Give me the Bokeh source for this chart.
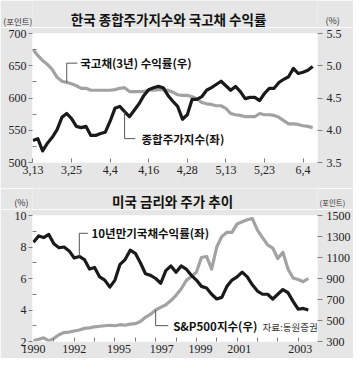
from bokeh.plotting import figure
from bokeh.models import Range1d, LinearAxis, FixedTicker, Label, CustomJSTickFormatter
from bokeh.layouts import column
from bokeh.embed import file_html
from bokeh.resources import INLINE

# ---------------- Top chart data (Korea, 2003 trading days) ----------------
kr_tick_index = [0, 8, 16, 24, 32, 40, 48, 56]
kr_tick_labels = ["3,13", "3,25", "4,4", "4,16", "4,28", "5,13", "5,23", "6,4"]
kospi = [534, 537, 518, 530, 539, 551, 570, 576, 568, 556,
         554, 556, 542, 542, 545, 547, 564, 584, 587, 579,
         571, 581, 591, 604, 613, 616, 618, 616, 604, 595,
         587, 567, 574, 598, 598, 602, 612, 616, 621, 626,
         619, 612, 618, 610, 599, 601, 601, 596, 607, 615,
         615, 624, 629, 633, 646, 638, 640, 643, 649]
ktb3y = [5.25, 5.16, 5.08, 5.02, 4.94, 4.82, 4.76, 4.74, 4.72, 4.69,
         4.65, 4.65, 4.62, 4.62, 4.62, 4.62, 4.62, 4.63, 4.65, 4.66,
         4.60, 4.60, 4.60, 4.60, 4.62, 4.62, 4.63, 4.63, 4.62, 4.59,
         4.55, 4.54, 4.54, 4.52, 4.49, 4.43, 4.41, 4.40, 4.38, 4.38,
         4.34, 4.26, 4.24, 4.23, 4.21, 4.21, 4.21, 4.26, 4.24, 4.24,
         4.23, 4.20, 4.15, 4.10, 4.10, 4.09, 4.07, 4.06, 4.04]
kr_x = list(range(len(kospi)))
kospi_ticks = [500, 550, 600, 650, 700]
kospi_minor = [525, 575, 625, 675]
ktb_ticks = [3.5, 4.0, 4.5, 5.0, 5.5]

# ---------------- Bottom chart data (US, quarterly 1990-2003) ----------------
us_yield10 = [8.3, 8.7, 8.6, 8.8, 8.2, 7.95, 8.0, 7.75, 7.3, 7.4,
              7.2, 6.6, 6.7, 6.1, 5.9, 5.45, 5.9, 6.9, 7.2, 7.8,
              7.6, 7.0, 6.3, 6.2, 6.0, 5.7, 6.5, 6.8, 6.4, 6.8,
              6.6, 6.2, 5.9, 5.5, 5.4, 5.0, 4.7, 4.8, 5.5, 5.9,
              6.1, 6.4, 6.1, 5.6, 5.2, 5.0, 5.0, 4.7, 5.0, 5.3,
              5.1, 4.55, 4.05, 4.1, 4.0]
sp500 = [310, 320, 335, 305, 330, 365, 385, 390, 400, 410,
         425, 430, 440, 445, 450, 455, 450, 460, 455, 465,
         470, 490, 530, 560, 600, 625, 650, 690, 740, 800,
         880, 920, 960, 1100, 1110, 990, 1200, 1300, 1340, 1340,
         1420, 1440, 1460, 1470, 1360, 1290, 1220, 1190, 1090, 1150,
         990, 905, 890, 870, 900]
us_t = [1990 + q / 4 for q in range(len(us_yield10))]
us_tick_pos = [1990.0, 1992.0, 1994.2, 1996.3, 1998.2, 2000.1, 2003.1]
us_tick_labels = ["1990", "1992", "1995", "1997", "1999", "2001", "2003"]
us_year_ticks = list(range(1991, 2004))
yield_ticks = [2, 4, 6, 8, 10]
yield_minor = [3, 5, 7, 9]
sp_ticks = [300, 500, 700, 900, 1100, 1300, 1500]

W = 353
BORDER_L = 32
BORDER_R = 31
FRAME_L = BORDER_L
FRAME_R = W - BORDER_R
BG = "#e6e6e6"
NUM_FONT = "Liberation Sans Narrow"
KR_FONT = "Noto Sans CJK KR"
BLACK = "#1a1a1a"
GRAY = "#a2a2a2"
TICK = "#808080"
LEADER = "#555555"


def unit_axis(ax, y, text, size, standoff):
    ax.ticker = FixedTicker(ticks=[y])
    ax.major_label_overrides = {y: text}
    ax.axis_line_color = None
    ax.major_tick_line_color = None
    ax.minor_tick_line_color = None
    ax.major_tick_in = 0
    ax.major_tick_out = 0
    ax.minor_tick_in = 0
    ax.minor_tick_out = 0
    ax.major_label_standoff = standoff
    ax.major_label_text_font = KR_FONT
    ax.major_label_text_font_size = size
    ax.major_label_text_color = "#333333"


def make_header(height, left_unit, right_unit):
    # frame is aligned with the charts below; x data units equal page pixels
    h = figure(width=W, height=height, output_backend="svg", toolbar_location=None,
               x_range=Range1d(FRAME_L, FRAME_R), y_range=Range1d(0, height),
               x_axis_location=None,
               min_border_left=BORDER_L, min_border_right=BORDER_R,
               min_border_top=0, min_border_bottom=0,
               background_fill_color=BG, border_fill_color=BG, outline_line_color=None)
    h.grid.visible = False
    unit_axis(h.yaxis[0], *left_unit)
    r = LinearAxis()
    unit_axis(r, *right_unit)
    h.add_layout(r, "right")
    return h


def make_fig(height, xr, yr, top, bottom):
    p = figure(width=W, height=height, output_backend="svg", toolbar_location=None,
               x_range=xr, y_range=yr,
               min_border_left=BORDER_L, min_border_right=BORDER_R,
               min_border_top=top, min_border_bottom=bottom,
               background_fill_color="white", border_fill_color=BG,
               outline_line_color=None)
    p.grid.visible = False
    return p


def style_axis(ax):
    ax.axis_line_color = None
    ax.major_tick_line_color = TICK
    ax.minor_tick_line_color = TICK
    ax.major_label_text_font = NUM_FONT
    ax.major_label_text_font_size = "12px"
    ax.major_label_text_color = "#222222"


def add_text(p, text, x, y, size, bold=False, color="#111111", **kw):
    lab = Label(x=x, y=y, x_units="data", y_units="data", text=text,
                text_font=KR_FONT, text_font_size=size,
                text_font_style="bold" if bold else "normal",
                text_color=color, text_align="left", text_baseline="middle", **kw)
    p.add_layout(lab)


# ================= Top header =================
H1 = 27
h1 = make_header(H1, (H1 - 20, "(포인트)", "8.5px", 0), (H1 - 21, "(%)", "9px", 8))
add_text(h1, "한국 종합주가지수와 국고채 수익률", 71, H1 - 18, "13.5px", bold=True)

# ================= Top chart =================
p1 = make_fig(161, Range1d(-0.1, 59.0), Range1d(500, 700), 6, 26)
p1.extra_y_ranges = {"right": Range1d(3.5, 5.5)}

xa = p1.xaxis[0]
style_axis(xa)
xa.ticker = FixedTicker(ticks=kr_tick_index)
xa.major_label_overrides = {i: s for i, s in zip(kr_tick_index, kr_tick_labels)}
xa.major_tick_in = 4
xa.major_tick_out = 0
xa.minor_tick_in = 0
xa.minor_tick_out = 0
xa.major_label_standoff = 3

ya = p1.yaxis[0]
style_axis(ya)
ya.ticker = FixedTicker(ticks=kospi_ticks, minor_ticks=kospi_minor)
ya.major_tick_out = 4
ya.major_tick_in = 0
ya.minor_tick_in = 4
ya.minor_tick_out = 0
ya.major_label_standoff = 2

ra = LinearAxis(y_range_name="right", ticker=FixedTicker(ticks=ktb_ticks),
                formatter=CustomJSTickFormatter(code="return tick.toFixed(1);"))
style_axis(ra)
ra.major_tick_out = 5
ra.major_tick_in = 0
ra.minor_tick_out = 0
ra.minor_tick_in = 0
ra.major_label_standoff = 4
p1.add_layout(ra, "right")

p1.line(kr_x, ktb3y, y_range_name="right", line_color=GRAY, line_width=3.2, line_join="round")
p1.line(kr_x, kospi, line_color=BLACK, line_width=3.2, line_join="round")

bond_anchor = 7
bond_lab_y = 5.04
p1.line([kr_x[bond_anchor], kr_x[bond_anchor], bond_anchor + 2.2],
        [ktb3y[bond_anchor], bond_lab_y, bond_lab_y], y_range_name="right",
        line_color=LEADER, line_width=1)
add_text(p1, "국고채(3년) 수익률(우)", bond_anchor + 2.8, bond_lab_y, "11.5px", bold=True,
         y_range_name="right")
kospi_anchor = 19
kospi_lab_y = 537
p1.line([kr_x[kospi_anchor], kr_x[kospi_anchor], kospi_anchor + 2.2],
        [kospi[kospi_anchor], kospi_lab_y, kospi_lab_y],
        line_color=LEADER, line_width=1)
add_text(p1, "종합주가지수(좌)", kospi_anchor + 3.5, kospi_lab_y, "11.5px", bold=True)

# ================= Bottom header =================
H2 = 21
h2 = make_header(H2, (H2 - 14, "(%)", "9px", 4), (H2 - 14, "(포인트)", "7.5px", 2))
add_text(h2, "미국 금리와 주가 추이", 113, H2 - 12, "13.5px", bold=True)

# ================= Bottom chart =================
p2 = make_fig(149, Range1d(1989.95, 2003.95), Range1d(2, 10), 6, 17)
p2.extra_y_ranges = {"right": Range1d(300, 1500)}

xb = p2.xaxis[0]
style_axis(xb)
xb.ticker = FixedTicker(ticks=us_tick_pos, minor_ticks=us_year_ticks)
xb.major_label_overrides = {v: s for v, s in zip(us_tick_pos, us_tick_labels)}
xb.major_tick_in = 0
xb.major_tick_out = 0
xb.minor_tick_in = 4
xb.minor_tick_out = 0
xb.major_label_standoff = 3

yb = p2.yaxis[0]
style_axis(yb)
yb.ticker = FixedTicker(ticks=yield_ticks, minor_ticks=yield_minor)
yb.major_tick_out = 4
yb.major_tick_in = 0
yb.minor_tick_in = 4
yb.minor_tick_out = 0
yb.major_label_standoff = 2

rb = LinearAxis(y_range_name="right", ticker=FixedTicker(ticks=sp_ticks))
style_axis(rb)
rb.major_tick_out = 5
rb.major_tick_in = 0
rb.minor_tick_out = 0
rb.minor_tick_in = 0
rb.major_label_standoff = 4
p2.add_layout(rb, "right")

p2.line(us_t, sp500, y_range_name="right", line_color=GRAY, line_width=3.2, line_join="round")
p2.line(us_t, us_yield10, line_color=BLACK, line_width=3.2, line_join="round")

y_anchor = 9
y_lab = 8.87
p2.line([us_t[y_anchor], us_t[y_anchor], us_t[y_anchor] + 0.42],
        [us_yield10[y_anchor], y_lab, y_lab], line_color=LEADER, line_width=1)
add_text(p2, "10년만기국채수익률(좌)", us_t[y_anchor] + 0.6, y_lab, "11.5px", bold=True)

s_anchor = 24
s_lab = 451
p2.line([us_t[s_anchor], us_t[s_anchor], us_t[s_anchor] + 0.62],
        [sp500[s_anchor], s_lab, s_lab], y_range_name="right",
        line_color=LEADER, line_width=1)
add_text(p2, "S&P500지수(우)", us_t[s_anchor] + 0.86, s_lab, "11.5px", bold=True,
         y_range_name="right")

add_text(p2, "자료:동원증권", 2001.25, 2.95, "9.5px", color="#333333")

layout = column(h1, p1, h2, p2, spacing=0)
open("out.html", "w").write(file_html(layout, INLINE))
